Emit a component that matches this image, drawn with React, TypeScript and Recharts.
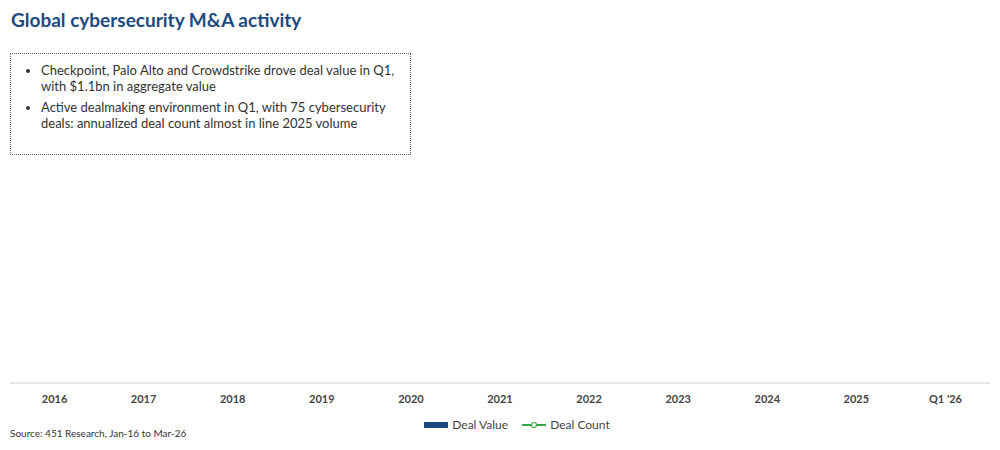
import { ComposedChart, Bar, Line, XAxis, YAxis, Legend } from "recharts";

const categories = ["2016", "2017", "2018", "2019", "2020", "2021", "2022", "2023", "2024", "2025", "Q1 '26"];
// no marks are visible in the reference, so the series are empty
const dealValue: (number | null)[] = categories.map(() => null);
const dealCount: (number | null)[] = categories.map(() => null);

const bullets = [
  "Checkpoint, Palo Alto and Crowdstrike drove deal value in Q1, with $1.1bn in aggregate value",
  "Active dealmaking environment in Q1, with 75 cybersecurity deals: annualized deal count almost in line 2025 volume",
];

const data = categories.map((name, i) => ({ name, value: dealValue[i], count: dealCount[i] }));

const BLUE = "#1c4a80";
const GREEN = "#3aa84a";

function LegendContent() {
  return (
    <div style={{ display: "flex", justifyContent: "center", gap: 14, fontSize: 12, color: "#444", paddingLeft: 34 }}>
      <span style={{ display: "flex", alignItems: "center", gap: 4 }}>
        <span style={{ width: 24, height: 6, background: BLUE, display: "inline-block" }} />
        Deal Value
      </span>
      <span style={{ display: "flex", alignItems: "center", gap: 4 }}>
        <svg width={24} height={8}>
          <line x1={0} y1={4} x2={24} y2={4} stroke={GREEN} strokeWidth={2} />
          <circle cx={12} cy={4} r={2.5} fill="#fff" stroke={GREEN} strokeWidth={1.2} />
        </svg>
        Deal Count
      </span>
    </div>
  );
}

export default function App() {
  return (
    <div style={{ position: "absolute", left: 0, top: 0, width: 1000, height: 450, background: "#fff", fontFamily: "Lato, sans-serif" }}>
      <div style={{ position: "absolute", left: 11, top: 8, fontSize: 19, fontWeight: 700, color: BLUE }}>
        Global cybersecurity M&amp;A activity
      </div>
      <div
        style={{
          position: "absolute",
          left: 10,
          top: 53,
          width: 379,
          height: 84,
          padding: "8px 8px 8px 12px",
          border: "1px dotted #666",
          fontSize: 13,
          lineHeight: "16px",
          color: "#333",
        }}
      >
        <ul style={{ margin: 0, paddingLeft: 18 }}>
          {bullets.map((b) => (
            <li key={b} style={{ marginBottom: 5 }}>{b}</li>
          ))}
        </ul>
      </div>
      <div style={{ position: "absolute", left: 0, top: 0 }}>
        <ComposedChart width={1000} height={440} data={data} margin={{ top: 170, right: 10, bottom: 26, left: 10 }}>
          <XAxis
            dataKey="name"
            height={16}
            axisLine={{ stroke: "#ccc" }}
            tickLine={false}
            tick={{ fontSize: 11, fontWeight: 700, fill: "#444" }}
            tickMargin={6}
          />
          <YAxis yAxisId="v" hide />
          <YAxis yAxisId="c" orientation="right" hide />
          <Legend content={<LegendContent />} wrapperStyle={{ position: "absolute", top: 417, left: 0, width: 1000 }} />
          <Bar yAxisId="v" dataKey="value" name="Deal Value" fill={BLUE} isAnimationActive={false} />
          <Line yAxisId="c" dataKey="count" name="Deal Count" stroke={GREEN} isAnimationActive={false} />
        </ComposedChart>
      </div>
      <div style={{ position: "absolute", left: 10, top: 427, fontSize: 10, color: "#333" }}>
        Source: 451 Research, Jan-16 to Mar-26
      </div>
    </div>
  );
}
